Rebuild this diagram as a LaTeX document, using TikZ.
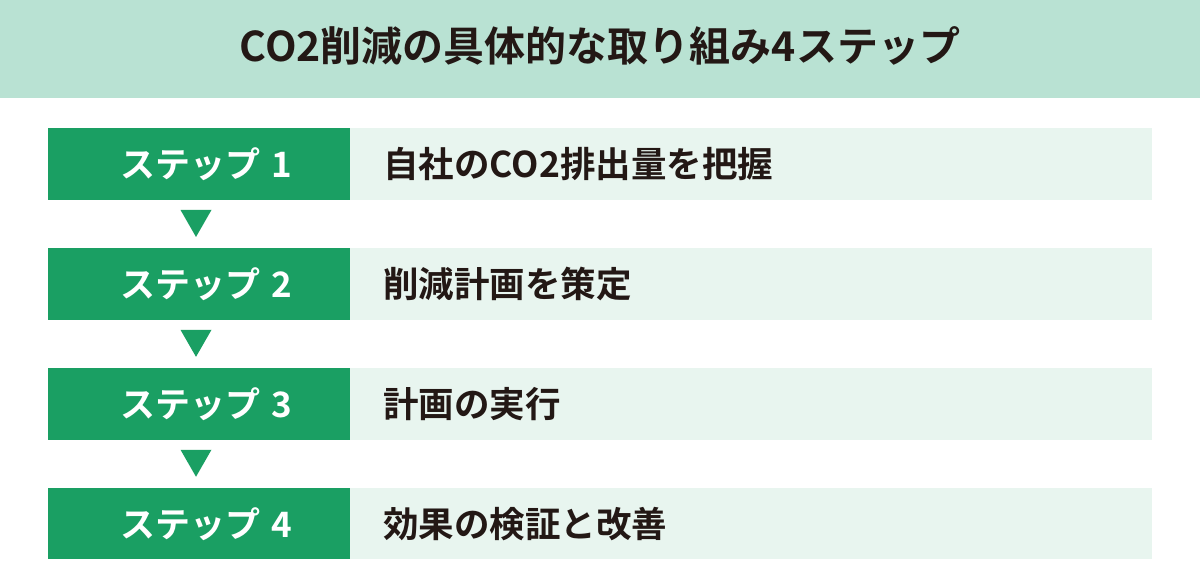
\documentclass[tikz,border=0pt]{standalone}
\usepackage{fontspec}
\setmainfont{Noto Sans CJK JP}[BoldFont={Noto Sans CJK JP Bold}]
\usetikzlibrary{positioning,calc}
\definecolor{headbg}{HTML}{B9E2D3}
\definecolor{stepgreen}{HTML}{1A9F63}
\definecolor{taskbg}{HTML}{E8F5EF}
\definecolor{inkdark}{HTML}{231815}

\begin{document}
\begin{tikzpicture}[x=1pt,y=1pt,
  titlebox/.style={text=inkdark,font=\fontsize{41}{41}\selectfont\bfseries},
  stepbox/.style={fill=stepgreen,text=white,minimum height=71.5pt,
    text width=158pt,inner xsep=72pt,inner ysep=0pt,align=left,
    font=\fontsize{35}{35}\selectfont\bfseries},
  taskbox/.style={fill=taskbg,text=inkdark,minimum height=71.5pt,
    text width=736pt,inner xsep=33pt,inner ysep=0pt,align=left,
    font=\fontsize{35.5}{35.5}\selectfont\bfseries}]
  \useasboundingbox (0,0) rectangle (1200,-580);
  \fill[headbg] (0,0) rectangle (1200,-98);
  \node[titlebox] (title) at (600,-46) {CO2削減の具体的な取り組み4ステップ};
  \node[stepbox] (s1) at (199,-164) {\mbox{ステップ 1}};
  \node[taskbox,right=0pt of s1] (t1) {自社のCO2排出量を把握};
  \node[stepbox,below=48pt of s1] (s2) {\mbox{ステップ 2}};
  \node[taskbox,right=0pt of s2] (t2) {削減計画を策定};
  \node[stepbox,below=48pt of s2] (s3) {\mbox{ステップ 3}};
  \node[taskbox,right=0pt of s3] (t3) {計画の実行};
  \node[stepbox,below=48pt of s3] (s4) {\mbox{ステップ 4}};
  \node[taskbox,right=0pt of s4] (t4) {効果の検証と改善};
  \foreach \i in {1,2,3}
    \fill[stepgreen] ($(s\i.south)+(-18.5,-10)$) -- ($(s\i.south)+(12.5,-10)$)
      -- ($(s\i.south)+(-3,-37)$) -- cycle;
\end{tikzpicture}
\end{document}
